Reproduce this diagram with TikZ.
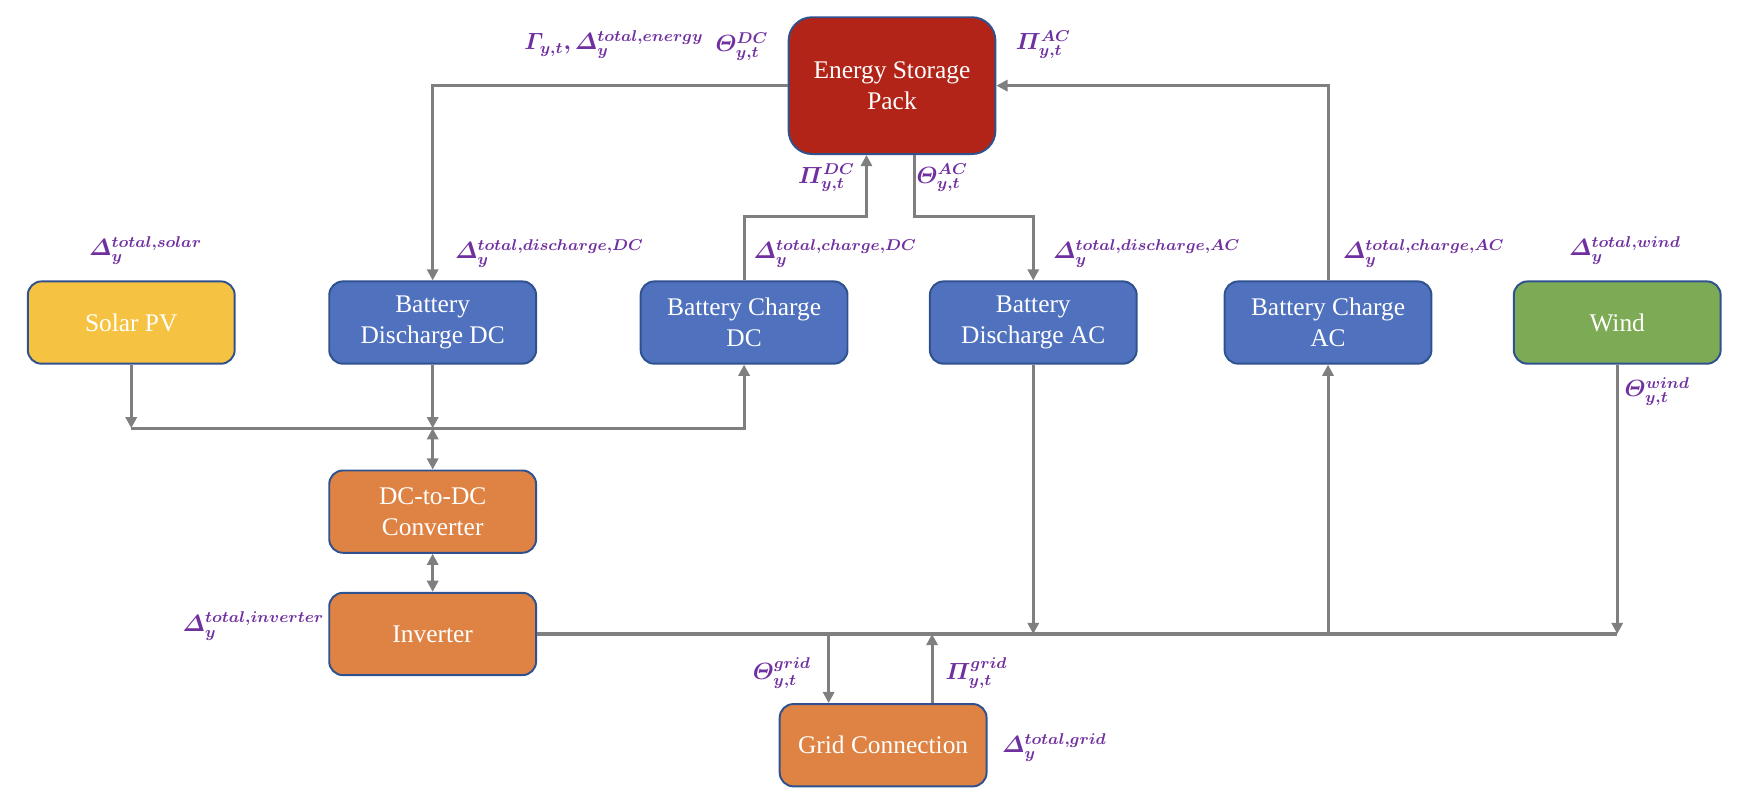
\documentclass[tikz,border=0pt]{standalone}
\usepackage{amsmath}
\usepackage{bm}
\usepackage[no-math]{fontspec}
\setmainfont{Liberation Serif}
\usetikzlibrary{arrows.meta}

\definecolor{boxline}{HTML}{2F528F}
\definecolor{packred}{HTML}{B22418}
\definecolor{solaryellow}{HTML}{F5C242}
\definecolor{batteryblue}{HTML}{4F71BE}
\definecolor{windgreen}{HTML}{7DAB55}
\definecolor{convorange}{HTML}{DF8344}
\definecolor{wire}{HTML}{7F7F7F}
\definecolor{param}{HTML}{7030A0}

\begin{document}
\begin{tikzpicture}[x=0.02cm,y=-0.02cm]
		\tikzset{box/.style = {draw=boxline, line width=1pt, rounded corners=7pt, minimum width=3.72cm, minimum height=1.48cm, align=center, text=white, font=\fontsize{13}{16}\selectfont}}
		\tikzset{edge/.style = {-{Triangle[length=0.2cm,width=0.2cm]}, draw=wire, line width=1.5pt}}
		\tikzset{biedge/.style = {{Triangle[length=0.2cm,width=0.2cm]}-{Triangle[length=0.2cm,width=0.2cm]}, draw=wire, line width=1.5pt}}
		\tikzset{wireline/.style = {draw=wire, line width=1.6pt}}
		\tikzset{param/.style = {text=param, font=\fontsize{12}{14}\selectfont, inner sep=0pt}}
		
		\useasboundingbox (0,0) rectangle (1568,713);
		
		\node[box, fill=packred, minimum height=2.46cm, rounded corners=12pt] (pack) at ( 802,  77) {Energy Storage\\Pack};
		\node[box, fill=solaryellow] (solar)    at ( 118, 290) {Solar PV};
		\node[box, fill=batteryblue] (bddc)     at ( 389, 290) {Battery\\Discharge DC};
		\node[box, fill=batteryblue] (bcdc)     at ( 669, 290) {Battery Charge\\DC};
		\node[box, fill=batteryblue] (bdac)     at ( 929, 290) {Battery\\Discharge AC};
		\node[box, fill=batteryblue] (bcac)     at (1194, 290) {Battery Charge\\AC};
		\node[box, fill=windgreen]   (wind)     at (1454, 290) {Wind};
		\node[box, fill=convorange]  (dcdc)     at ( 389, 460) {DC-to-DC\\Converter};
		\node[box, fill=convorange]  (inverter) at ( 389, 570) {Inverter};
		\node[box, fill=convorange]  (grid)     at ( 794, 670) {Grid Connection};
		
		% bends and bus points
		\coordinate (dcup)    at ( 779, 195);
		\coordinate (acdown)  at ( 822, 195);
		\coordinate (dcbus)   at ( 389, 385);
		\coordinate (gridout) at ( 745, 570);
		\coordinate (gridin)  at ( 838, 570);
		
		% storage pack links
		\draw[edge] (pack.west) -| (bddc.north);
		\draw[edge] (bcdc.north) |- (dcup) -- (dcup |- pack.south);
		\draw[edge] (acdown |- pack.south) -- (acdown) -| (bdac.north);
		\draw[edge] (bcac.north) |- (pack.east);
		
		% DC side
		\draw[edge] (solar.south) -- (solar.south |- dcbus);
		\draw[edge] (bddc.south) -- (dcbus);
		\draw[edge] (solar.south |- dcbus) -| (bcdc.south);
		\draw[biedge] (dcbus) -- (dcdc.north);
		\draw[biedge] (dcdc.south) -- (inverter.north);
		
		% AC side
		\draw[wireline] (inverter.east) -- (wind.south |- inverter.east);
		\draw[edge] (bdac.south) -- (bdac.south |- inverter.east);
		\draw[edge] (bcac.south |- inverter.east) -- (bcac.south);
		\draw[edge] (wind.south) -- (wind.south |- inverter.east);
		\draw[edge] (gridout) -- (gridout |- grid.north);
		\draw[edge] (gridin |- grid.north) -- (gridin);
		
		% parameters
		\node[param] (penergy)  at ( 552,  40) {$\bm{\varGamma_{y,t}, \varDelta_y^{total{,}energy}}$};
		\node[param] (ppackdc)  at ( 667,  42) {$\bm{\varTheta_{y,t}^{DC}}$};
		\node[param] (ppackac)  at ( 938,  40) {$\bm{\varPi_{y,t}^{AC}}$};
		\node[param] (pindc)    at ( 743, 160) {$\bm{\varPi_{y,t}^{DC}}$};
		\node[param] (poutac)   at ( 847, 160) {$\bm{\varTheta_{y,t}^{AC}}$};
		\node[param] (psolar)   at ( 131, 225) {$\bm{\varDelta_y^{total{,}solar}}$};
		\node[param] (pbddc)    at ( 494, 228) {$\bm{\varDelta_y^{total{,}discharge{,}DC}}$};
		\node[param] (pbcdc)    at ( 751, 228) {$\bm{\varDelta_y^{total{,}charge{,}DC}}$};
		\node[param] (pbdac)    at (1031, 228) {$\bm{\varDelta_y^{total{,}discharge{,}AC}}$};
		\node[param] (pbcac)    at (1280, 228) {$\bm{\varDelta_y^{total{,}charge{,}AC}}$};
		\node[param] (pwind)    at (1461, 225) {$\bm{\varDelta_y^{total{,}wind}}$};
		\node[param] (pwindout) at (1490, 352) {$\bm{\varTheta_{y,t}^{wind}}$};
		\node[param] (pinv)     at ( 228, 563) {$\bm{\varDelta_y^{total{,}inverter}}$};
		\node[param] (pgridout) at ( 703, 605) {$\bm{\varTheta_{y,t}^{grid}}$};
		\node[param] (pgridin)  at ( 878, 605) {$\bm{\varPi_{y,t}^{grid}}$};
		\node[param] (pgrid)    at ( 948, 672) {$\bm{\varDelta_y^{total{,}grid}}$};
\end{tikzpicture}
\end{document}
